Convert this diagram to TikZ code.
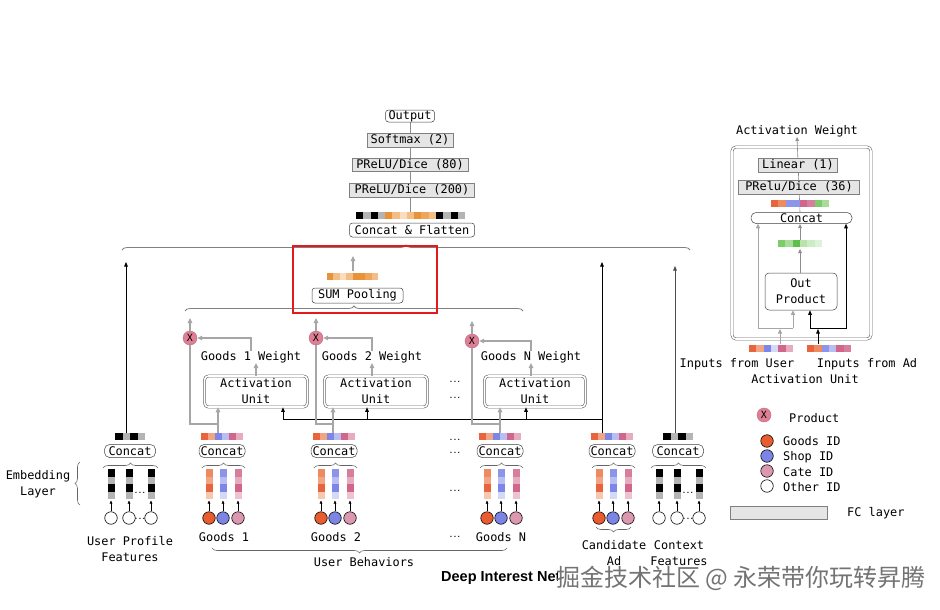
\documentclass[tikz,border=0pt]{standalone}
\usepackage{fontspec}
\usetikzlibrary{arrows.meta,decorations.pathreplacing}
\newfontfamily\dvm{DejaVu Sans Mono}
\newfontfamily\hsans{Liberation Sans}
\newfontfamily\cjk{Noto Sans CJK SC}
\newcommand\mono{\dvm\fontsize{11.9}{16}\selectfont}
\definecolor{gO}{HTML}{E8643C}
\definecolor{gO2}{HTML}{F2A584}
\definecolor{gOm}{HTML}{EE8A60}
\definecolor{gO3}{HTML}{F6C8B0}
\definecolor{gB}{HTML}{7B86E6}
\definecolor{gB2}{HTML}{B8BEF2}
\definecolor{gBm}{HTML}{8B95EA}
\definecolor{gB3}{HTML}{D5D9F8}
\definecolor{gP}{HTML}{D0668A}
\definecolor{gP2}{HTML}{E8AABD}
\definecolor{gPm}{HTML}{D67E9C}
\definecolor{gP3}{HTML}{EEC3D1}
\definecolor{oA}{HTML}{E8923A}
\definecolor{oB}{HTML}{F3BE85}
\definecolor{oC}{HTML}{F9DDBE}
\definecolor{oD}{HTML}{EFA65A}
\definecolor{gnA}{HTML}{7DCB6A}
\definecolor{gnB}{HTML}{A9DC9A}
\definecolor{gnC}{HTML}{5DBF4C}
\definecolor{gnD}{HTML}{B8E4AC}
\definecolor{gnE}{HTML}{CDEBC4}
\definecolor{gnF}{HTML}{DDF2D6}
\definecolor{lg}{HTML}{B4B4B4}
\definecolor{ln}{HTML}{A6A6A6}
\definecolor{circO}{HTML}{E85C30}
\definecolor{circB}{HTML}{7C84E4}
\definecolor{circP}{HTML}{DC98AE}
\definecolor{prodP}{HTML}{DD7F95}
\definecolor{redbox}{HTML}{E3191C}
\newcommand\cellbar[5]{\foreach \cc [count=\ii from 0] in {#5}{\fill[\cc] ({#1+\ii*#3},#2) rectangle ({#1+(\ii+1)*#3},{#2+#4});}}
\newcommand\cellcol[5]{\foreach \cc [count=\ii from 0] in {#5}{\fill[\cc] ({#1-#3/2},{#2+\ii*#4}) rectangle ({#1+#3/2},{#2+(\ii+1)*#4});}}
\tikzset{
 rbox/.style={draw=black!75, line width=0.5pt, rounded corners=3pt, fill=white, font=\mono, inner sep=0pt},
 cbox/.style={rbox, rounded corners=5pt},
 fcbox/.style={draw=black!50, line width=0.5pt, fill=black!10, font=\mono, inner sep=0pt},
 aubox/.style={draw=black!60, double=white, double distance=1.6pt, line width=0.6pt, rounded corners=4pt, fill=white, font=\mono, align=center, inner sep=0pt},
 txt/.style={font=\mono, inner sep=0pt, align=center},
 gl/.style={draw=ln, line width=1.3pt},
 ga/.style={gl, -{Triangle[length=5pt,width=4.5pt]}},
 bl/.style={draw=black, line width=0.8pt},
 ba/.style={bl, -{Triangle[length=4.5pt,width=3.6pt]}},
 sa/.style={draw=black, line width=0.5pt, -{Triangle[length=3pt,width=2.6pt]}},
 idc/.style={circle, draw=black, line width=0.6pt, minimum size=12.5pt, inner sep=0pt},
 prod/.style={circle, fill=prodP, draw=prodP!85!black, line width=0.4pt, minimum size=14pt, inner sep=0pt, font=\dvm\fontsize{10}{10}\selectfont},
 brc/.style={draw=black!60, line width=0.6pt, decorate, decoration={brace, amplitude=5pt}},
 bigbrc/.style={draw=black!50, line width=0.8pt, decorate, decoration={brace, amplitude=5pt}},
 dots/.style={font=\dvm\bfseries\fontsize{6.5}{6.5}\selectfont, inner sep=0pt},
}
\newcommand\goodsunit[3]{%
 \begin{scope}[xshift=#1pt]
  \cellbar{201}{433}{7}{7}{gO,gO2,gB,gB2,gP,gP2}
  \node[cbox, minimum width=46pt, minimum height=13pt] (#2c) at (222,451) {Concat};
  \draw[brc] (202,468) -- (245,468);
  \cellcol{209}{469}{7}{7.5}{gOm,gO2,gO,gO3}
  \cellcol{223}{469}{7}{7.5}{gBm,gB2,gB,gB3}
  \cellcol{238}{469}{7}{7.5}{gPm,gP2,gP,gP3}
  \node[idc, fill=circO] (#2a) at (209,518) {};
  \node[idc, fill=circB] (#2b) at (223,518) {};
  \node[idc, fill=circP] (#2d) at (238,518) {};
  \draw[sa] (#2a.north) -- (209,500.5);
  \draw[sa] (#2b.north) -- (223,500.5);
  \draw[sa] (#2d.north) -- (238,500.5);
  #3
 \end{scope}}
\newcommand\profunit[2]{%
  \cellbar{#1-15}{433}{7.5}{7}{black,lg,black,lg}
  \node[cbox, minimum width=51pt, minimum height=13pt] (#2c) at (#1,451) {Concat};
  \draw[brc] (#1-27,468) -- (#1+28,468);
  \cellcol{#1-19}{469}{7}{7.5}{black,lg,black,lg}
  \cellcol{#1-1}{469}{7}{7.5}{black,lg,black,lg}
  \cellcol{#1+21}{469}{7}{7.5}{black,lg,black,lg}
  \node[dots] (#2d1) at (#1+10,493) {...};
  \node[idc, fill=white] (#2a) at (#1-19,518) {};
  \node[idc, fill=white] (#2b) at (#1-1,518) {};
  \node[idc, fill=white] (#2e) at (#1+21,518) {};
  \node[dots] (#2d2) at (#1+10,519) {...};
  \draw[sa] (#2a.north) -- (#1-19,500.5);
  \draw[sa] (#2b.north) -- (#1-1,500.5);
  \draw[sa] (#2e.north) -- (#1+21,500.5);
}
\begin{document}
\begin{tikzpicture}[x=1pt,y=-1pt]
\useasboundingbox (0,0) rectangle (940,610);
\fill[white] (0,0) rectangle (940,610);

% ---------- top stack ----------
\draw[draw=black!45, line width=0.6pt] (410,112) -- (410,212);
\node[rbox, minimum width=49pt, minimum height=12pt] (out) at (410,116) {Output};
\node[fcbox, minimum width=86pt, minimum height=14pt] (soft) at (410,140) {Softmax (2)};
\node[fcbox, minimum width=116pt, minimum height=13pt] (pr80) at (410,164.5) {PReLU/Dice (80)};
\node[fcbox, minimum width=125pt, minimum height=14pt] (pr200) at (412,190) {PReLU/Dice (200)};
\cellbar{356}{212}{7.27}{7}{black,lg,black,lg,oA,oB,oC,oB,oA,oD,oB,black,lg,black,lg}
\node[rbox, minimum width=125pt, minimum height=14pt] (cf) at (412,230) {Concat \& Flatten};
\draw[bigbrc] (122,250) -- (690,250);

% ---------- sum pooling ----------
\cellbar{327}{273}{6.4}{7}{oA,oB,oC,oB,oA,oA,oD,oB}
\node[rbox, minimum width=91pt, minimum height=15pt] (sum) at (357.5,295.5) {SUM Pooling};
\coordinate (sumtop) at (353,271);
\draw[ga] (sumtop) -- (353,256);
\draw[bigbrc] (185,311) -- (523,311);
\draw[redbox, line width=2.4pt] (293,246) rectangle (437,313);

% ---------- product circles and weights ----------
\node[prod] (p1) at (190,338) {X};
\node[prod] (p2) at (316,338) {X};
\node[prod] (pN) at (472,341) {X};
\draw[ga] (p1.north) -- (190,318);
\draw[ga] (p2.north) -- (316,318);
\draw[ga] (pN.north) -- (472,321);
\node[txt] (w1) at (251,357) {Goods 1 Weight};
\node[txt] (w2) at (372,357) {Goods 2 Weight};
\node[txt] (wN) at (531,357) {Goods N Weight};
\node[aubox, minimum width=103pt, minimum height=31pt] (au1) at (256,391.5) {Activation\\Unit};
\node[aubox, minimum width=103pt, minimum height=31pt] (au2) at (376,391.5) {Activation\\Unit};
\node[aubox, minimum width=101pt, minimum height=31pt] (au3) at (535,391.5) {Activation\\Unit};
\draw[ga] (au1.north) -- (au1.north |- w1.south);
\draw[ga] (au2.north -| w2.south) -- (w2.south);
\draw[ga] (au3.north -| wN.south) -- (wN.south);
\draw[ga] (w1.north) -- (w1.north |- p1) -- (p1.east);
\draw[ga] (w2.north) -- (w2.north |- p2) -- (p2.east);
\draw[ga] (wN.north) -- (wN.north |- pN) -- (pN.east);
\node[dots] (d1) at (455,382) {...};
\node[dots] (d2) at (455,398) {...};

% ---------- bottom units ----------
\profunit{130}{up}
\node[txt] (upt) at (130,549) {User Profile\\Features};
\goodsunit{0}{ga}{\node[txt] (gat) at (224,537) {Goods 1};}
\goodsunit{112}{gb}{\node[txt] (gbt) at (224,537) {Goods 2};}
\goodsunit{278}{gn}{\node[txt] (gnt) at (223,537) {Goods N};}
\goodsunit{390}{ca}{\draw[brc] (241,527) -- (206,527);}
\node[txt] (cat) at (614,553) {Candidate\\Ad};
\profunit{678}{cx}
\node[txt] (cxt) at (679,553) {Context\\Features};
\node[dots] (d3) at (455,440) {...};
\node[dots] (d4) at (455,453) {...};
\node[dots] (d5) at (455,491) {...};
\node[dots] (d6) at (455,537) {...};
\draw[brc] (507,548) -- (212,548);
\node[txt] (ubt) at (364,562) {User Behaviors};
\draw[brc] (80,505) -- (80,462);
\node[txt] (emb) at (38,484) {Embedding\\Layer};

% ---------- connectors from bottom ----------
\coordinate (upb) at (126,433);
\draw[ba] (upb) -- (126,262);
\coordinate (cxb) at (675,433);
\draw[bl, draw=black!70, -{Triangle[length=4.5pt,width=3.6pt]}] (cxb) -- (675,266);
\coordinate (cab) at (602,433);
\draw[ba] (cab) -- (602,262);
\coordinate (k0) at (602,419);
\coordinate (k1) at (283,419);
\coordinate (k2) at (367,419);
\coordinate (k3) at (526,419);
\draw[bl] (k0) -- (k1);
\draw[ba] (k1) -- (k1 |- au1.south);
\draw[ba] (k2) -- (k2 |- au2.south);
\draw[ba] (k3) -- (k3 |- au3.south);
\coordinate (g1) at (218,433);
\coordinate (g2) at (333,433);
\coordinate (g3) at (500,433);
\draw[ga] (g1) -- (g1 |- au1.south);
\draw[ga] (g2) -- (g2 |- au2.south);
\draw[ga] (g3) -- (g3 |- au3.south);
\draw[gl] (p1.south) |- (218,424);
\draw[gl] (p2.south) |- (333,424);
\draw[gl] (pN.south) |- (500,424);

% ---------- activation unit panel ----------
\node[font=\mono, inner sep=0pt] (awt) at (797,131) {Activation Weight};
\draw[draw=black!60, double=white, double distance=1.6pt, line width=0.6pt, rounded corners=4pt] (732,147) rectangle (871,339);
\draw[draw=black!45, line width=0.6pt, -{Triangle[length=4pt,width=3.5pt]}] (800,212) -- (awt.south);
\node[fcbox, minimum width=79pt, minimum height=14pt] (lin) at (798,165) {Linear (1)};
\node[fcbox, minimum width=121pt, minimum height=14pt] (pr36) at (799,187) {PRelu/Dice (36)};
\cellbar{771}{200}{7.25}{7}{gO,gOm,gBm,gBm,gP,gPm,gnA,gnB}
\node[cbox, minimum width=101pt, minimum height=11pt] (acc) at (801.5,218) {Concat};
\cellbar{778}{240}{7.33}{7}{gnA,gnB,gnC,gnD,gnE,gnF}
\node[rbox, rounded corners=4pt, minimum width=72pt, minimum height=37pt, align=center] (op) at (801,291.5) {Out\\Product};
\draw[draw=black!45, line width=0.8pt, -{Triangle[length=4pt,width=3.5pt]}] (op.north -| 800,0) -- (800,249);
\draw[draw=black!45, line width=0.8pt, -{Triangle[length=4pt,width=3.5pt]}] (800,240) -- (800,224);
\coordinate (ul) at (758,328);
\coordinate (ur) at (793,328);
\draw[draw=ln, line width=1pt, -{Triangle[length=4.5pt,width=4pt]}] (ur) -- (ul) -- (ul |- acc.south);
\draw[draw=ln, line width=1pt, -{Triangle[length=4.5pt,width=4pt]}] (ur) -- (ur |- op.south);
\coordinate (bl1) at (810,328);
\coordinate (br1) at (846,328);
\draw[bl, -{Triangle[length=4.5pt,width=3.6pt]}] (bl1) -- (br1) -- (br1 |- acc.south);
\draw[ba] (bl1) -- (bl1 |- op.south);
\cellbar{749}{345}{7.33}{7}{gO,gO2,gB,gB3,gP,gP2}
\cellbar{807}{345}{7.33}{7}{gO,gOm,gBm,gB2,gP,gPm}
\coordinate (uin) at (780,344);
\coordinate (ain) at (818,344);
\draw[draw=ln, line width=1pt, -{Triangle[length=4.5pt,width=4pt]}] (uin) -- (780,329);
\draw[ba] (ain) -- (818,329);
\node[txt] (ifu) at (737,364) {Inputs from User};
\node[txt] (ifa) at (867,364) {Inputs from Ad};
\node[txt] (aut) at (805,379) {Activation Unit};

% ---------- legend ----------
\node[prod] (lp) at (764,415) {X};
\node[txt, anchor=west] (lpt) at (789,418) {Product};
\node[idc, fill=circO] (lg1) at (767,441) {};
\node[idc, fill=circB] (lg2) at (767,456) {};
\node[idc, fill=circP] (lg3) at (767,471) {};
\node[idc, fill=white] (lg4) at (767,486) {};
\node[txt, anchor=west] (lt1) at (783,441) {Goods ID};
\node[txt, anchor=west] (lt2) at (783,457) {Shop ID};
\node[txt, anchor=west] (lt3) at (783,472) {Cate ID};
\node[txt, anchor=west] (lt4) at (783,487) {Other ID};
\node[fcbox, minimum width=97pt, minimum height=13pt] (fcl) at (778.5,512.5) {};
\node[txt, anchor=west] (fct) at (847,513) {FC layer};

% ---------- title and watermark ----------
\node[font=\hsans\bfseries\fontsize{14.5}{16}\selectfont, anchor=west, inner sep=0pt] (dint) at (441,578) {Deep Interest Network};
\fill[white] (558,569) rectangle (640,589);
\node[font=\cjk\fontsize{24}{24}\selectfont, text=black!55, anchor=west, inner sep=0pt] (wm) at (556,578) {掘金技术社区 @ 永荣带你玩转昇腾};
\end{tikzpicture}
\end{document}
